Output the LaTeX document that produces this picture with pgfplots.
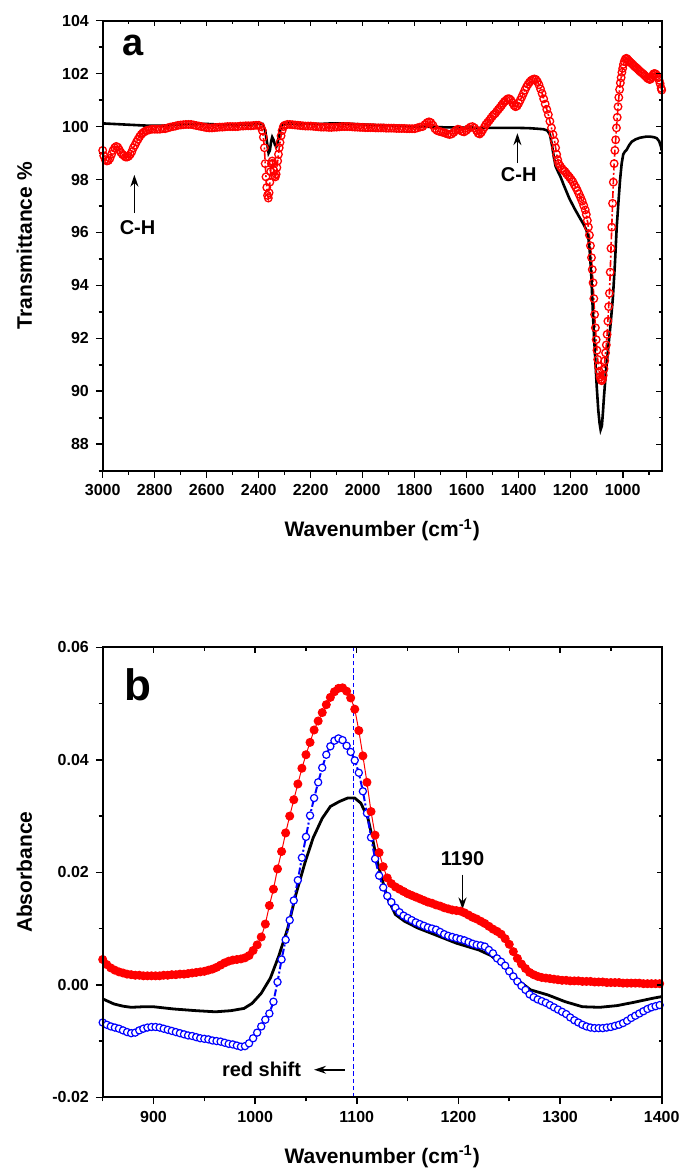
\documentclass[border=0pt]{standalone}
\usepackage{fontspec}
\setmainfont{Liberation Sans}
\usepackage{pgfplots}
\pgfplotsset{compat=1.18}
\usetikzlibrary{arrows.meta}

\pgfplotsset{
  panel/.style={scale only axis, width=279.5pt, height=225pt,
    axis line style={line width=0.9pt},
    every tick/.style={black, line width=0.8pt},
    major tick length=3.4pt, minor tick length=2pt,
    tick label style={font=\fontsize{8}{9}\selectfont\bfseries},
    label style={font=\fontsize{10.5}{12}\selectfont\bfseries},
    /pgf/number format/assume math mode=true,
    /pgf/number format/1000 sep={},
    xlabel style={at={(axis description cs:0.5,-0.132)}, anchor=center},
    ylabel style={at={(axis description cs:-0.14,0.5)}, anchor=center},
    xtick pos=left, ytick pos=left, tick align=outside},
  tickbox/.style={scale only axis, width=279.5pt, height=225pt,
    axis line style={line width=0.9pt},
    every tick/.style={black, line width=0.7pt},
    major tick length=2.6pt, minor tick length=1.6pt,
    xtick pos=right, ytick pos=right, tick align=inside,
    scaled ticks=false, xticklabels={}, yticklabels={}}
}
\tikzset{
  note/.style={font=\fontsize{10}{12}\selectfont\bfseries},
  arr/.style={-{Stealth[length=6pt,width=4pt]}, line width=0.75pt}
}

\begin{document}
\begin{tikzpicture}
\useasboundingbox (-51.35pt,10.35pt) rectangle (289.15pt,-575.65pt);

% ---------------- panel a ----------------
\begin{axis}[panel, at={(0pt,0pt)}, anchor=north west,
  x dir=reverse, xmin=850, xmax=3000, ymin=87, ymax=104,
  xtick={1000,1200,...,3000}, minor xtick={900,1100,...,2900},
  ytick={88,90,...,104}, minor ytick={87,89,...,103},
  xlabel={Wavenumber (cm\textsuperscript{-1})}, ylabel={Transmittance \%}]

\addplot[red, line width=0.8pt, dash pattern=on 3.5pt off 1.2pt on 1pt off 1.2pt,
  mark=o, mark size=1.9pt, mark options={solid, line width=0.65pt}] coordinates {
(3000,99.1) (2996,98.9) (2990,98.75) (2984,98.7) (2978,98.72) (2972,98.8) (2966,98.95)
(2960,99.1) (2954,99.2) (2948,99.25) (2942,99.22) (2936,99.12) (2930,99.02) (2924,98.95)
(2918,98.9) (2912,98.85) (2906,98.85) (2900,98.88) (2894,98.95) (2888,99.05) (2882,99.2)
(2876,99.3) (2870,99.42) (2864,99.52) (2858,99.62) (2852,99.7) (2846,99.76) (2840,99.8)
(2834,99.84) (2828,99.86) (2820,99.88) (2810,99.9) (2800,99.9) (2790,99.9) (2780,99.9)
(2770,99.92) (2760,99.92) (2750,99.95) (2740,99.98) (2730,100.0) (2720,100.02) (2710,100.05)
(2700,100.06) (2690,100.07) (2680,100.08) (2670,100.08) (2660,100.08) (2650,100.06)
(2640,100.04) (2630,100.02) (2620,100.0) (2610,99.98) (2600,99.96) (2590,99.95) (2580,99.95)
(2570,99.96) (2560,99.97) (2550,99.98) (2540,99.98) (2530,99.99) (2520,100.0) (2510,100.0)
(2500,100.0) (2490,100.0) (2480,100.0) (2470,100.02) (2460,100.02) (2450,100.03)
(2440,100.03) (2430,100.03) (2420,100.04) (2410,100.05) (2400,100.05) (2392,100.0)
(2386,99.85) (2382,99.6) (2378,99.2) (2375,98.6) (2372,98.1) (2369,97.7) (2366,97.4)
(2363,97.3) (2360,97.5) (2357,97.9) (2354,98.3) (2351,98.6) (2348,98.7) (2345,98.6)
(2342,98.35) (2339,98.15) (2336,98.1) (2333,98.2) (2330,98.45) (2327,98.7) (2324,98.95)
(2321,99.2) (2318,99.4) (2314,99.65) (2310,99.85) (2305,100.0) (2300,100.05) (2290,100.08)
(2280,100.08) (2270,100.07) (2260,100.06) (2250,100.05) (2240,100.04) (2230,100.03)
(2220,100.02) (2210,100.02) (2200,100.02) (2190,100.01) (2180,100.0) (2170,99.99)
(2160,99.98) (2150,99.98) (2140,99.98) (2130,99.97) (2120,99.97) (2110,99.98) (2100,99.98)
(2090,99.99) (2080,100.0) (2070,100.0) (2060,100.0) (2050,100.0) (2040,99.99) (2030,99.98)
(2020,99.98) (2010,99.97) (2000,99.97) (1990,99.96) (1980,99.96) (1970,99.96) (1960,99.96)
(1950,99.95) (1940,99.95) (1930,99.95) (1920,99.95) (1910,99.94) (1900,99.94) (1890,99.94)
(1880,99.94) (1870,99.93) (1860,99.93) (1850,99.93) (1840,99.93) (1830,99.92) (1820,99.92)
(1810,99.92) (1800,99.92) (1790,99.95) (1780,99.98) (1770,100.0) (1760,100.08) (1752,100.15)
(1745,100.18) (1738,100.15) (1730,100.05) (1722,99.92) (1714,99.85) (1706,99.82) (1698,99.8)
(1690,99.78) (1682,99.75) (1674,99.72) (1666,99.7) (1658,99.72) (1650,99.78) (1642,99.85)
(1634,99.9) (1626,99.88) (1618,99.82) (1610,99.8) (1602,99.85) (1594,99.92) (1586,99.98)
(1578,100.0) (1570,99.95) (1562,99.85) (1556,99.75) (1550,99.72) (1544,99.78) (1538,99.88)
(1532,99.98) (1526,100.08) (1520,100.15) (1514,100.22) (1508,100.3) (1502,100.38)
(1496,100.45) (1490,100.5) (1484,100.58) (1478,100.65) (1472,100.72) (1466,100.8)
(1460,100.88) (1454,100.95) (1448,101.0) (1442,101.05) (1436,101.05) (1430,101.0)
(1424,100.9) (1418,100.8) (1412,100.75) (1406,100.78) (1400,100.88) (1394,101.0)
(1388,101.12) (1382,101.25) (1376,101.38) (1370,101.5) (1364,101.6) (1358,101.68)
(1352,101.74) (1346,101.78) (1340,101.8) (1334,101.78) (1328,101.7) (1322,101.58)
(1316,101.42) (1310,101.25) (1304,101.05) (1298,100.85) (1292,100.65) (1286,100.45)
(1280,100.2) (1274,99.95) (1268,99.7) (1262,99.45) (1258,99.2) (1254,98.95) (1250,98.75)
(1246,98.6) (1240,98.5) (1234,98.42) (1228,98.35) (1222,98.3) (1216,98.22) (1210,98.15)
(1204,98.08) (1198,98.0) (1192,97.92) (1186,97.8) (1180,97.7) (1174,97.58) (1168,97.45)
(1162,97.32) (1156,97.18) (1150,97.02) (1144,96.85) (1140,96.68) (1136,96.45) (1132,96.2)
(1128,95.9) (1124,95.5) (1120,95.05) (1117,94.6) (1114,94.1) (1111,93.5) (1108,92.9)
(1105,92.4) (1102,91.95) (1099,91.55) (1096,91.2) (1093,90.95) (1090,90.75) (1087,90.55)
(1084,90.45) (1081,90.4) (1078,90.45) (1075,90.6) (1072,90.85) (1069,91.15) (1066,91.45)
(1063,91.75) (1060,92.15) (1057,92.65) (1054,93.2) (1051,93.7) (1048,94.5) (1045,95.4)
(1042,96.2) (1039,97.1) (1036,97.9) (1033,98.6) (1030,99.1) (1027,99.5) (1024,99.95)
(1021,100.35) (1018,100.75) (1015,101.1) (1012,101.4) (1009,101.65) (1006,101.85)
(1003,102.05) (1000,102.2) (997,102.35) (994,102.46) (990,102.55) (986,102.58) (982,102.55)
(978,102.5) (974,102.46) (970,102.42) (965,102.38) (960,102.33) (955,102.28) (950,102.24)
(945,102.2) (940,102.15) (935,102.1) (930,102.06) (925,102.02) (920,101.98) (915,101.93)
(910,101.88) (905,101.83) (900,101.8) (896,101.78) (892,101.8) (888,101.88) (884,101.95)
(880,102.0) (876,102.0) (872,101.98) (868,101.92) (864,101.85) (860,101.75) (856,101.62)
(852,101.45) (850,101.38)};

\addplot[black, line width=1.3pt] coordinates {
(3000,100.12) (2960,100.1) (2920,100.08) (2880,100.06) (2840,100.04) (2800,100.03)
(2760,100.04) (2720,100.07) (2680,100.1) (2640,100.1) (2600,100.1) (2560,100.08)
(2520,100.07) (2480,100.07) (2440,100.08) (2400,100.1) (2385,100.1) (2375,99.85)
(2368,99.4) (2362,99.0) (2357,99.1) (2352,99.45) (2348,99.6) (2343,99.5) (2337,99.3)
(2332,99.25) (2326,99.45) (2320,99.75) (2314,100.0) (2306,100.1) (2280,100.12) (2240,100.1)
(2200,100.1) (2160,100.1) (2120,100.12) (2080,100.12) (2040,100.1) (2000,100.08)
(1960,100.06) (1920,100.05) (1880,100.04) (1840,100.02) (1800,100.0) (1760,100.0)
(1720,99.98) (1680,99.97) (1640,99.97) (1600,99.96) (1560,99.95) (1520,99.95) (1480,99.95)
(1440,99.95) (1400,99.95) (1360,99.94) (1330,99.92) (1305,99.9) (1290,99.85) (1280,99.7)
(1272,99.3) (1265,98.85) (1258,98.5) (1248,98.28) (1240,98.12) (1225,97.75) (1205,97.28)
(1185,96.9) (1165,96.55) (1150,96.3) (1140,96.1) (1132,95.8) (1126,95.2) (1121,94.4)
(1117,93.5) (1112,92.4) (1106,91.3) (1100,90.2) (1094,89.3) (1089,88.8) (1085,88.55)
(1080,88.7) (1076,89.2) (1072,89.8) (1064,90.8) (1055,91.7) (1046,92.6) (1038,93.5)
(1030,94.8) (1023,96.2) (1016,97.2) (1010,98.0) (1004,98.6) (998,98.95) (992,99.05)
(985,99.12) (975,99.3) (965,99.43) (950,99.52) (933,99.58) (910,99.62) (895,99.62)
(880,99.6) (869,99.56) (860,99.45) (853,99.25) (850,99.1)};

\node[font=\fontsize{19}{22}\selectfont\bfseries] at (axis cs:2885,103.08) {a};
\node[note] at (axis cs:2866,96.19) {C-H};
\draw[arr] (axis cs:2878,96.73) -- (axis cs:2878,98.18);
\node[note] at (axis cs:1400,98.18) {C-H};
\draw[arr] (axis cs:1405,98.62) -- (axis cs:1405,99.75);
\end{axis}
\begin{axis}[tickbox, at={(0pt,0pt)}, anchor=north west,
  x dir=reverse, xmin=850, xmax=3000, ymin=87, ymax=104,
  xtick={1000,1200,...,3000}, minor xtick={900,1100,...,2900},
  ytick={88,90,...,104}, minor ytick={87,89,...,103}]
\end{axis}

% ---------------- panel b ----------------
\begin{axis}[panel, at={(0pt,-313.3pt)}, anchor=north west,
  xmin=850, xmax=1400, ymin=-0.02, ymax=0.06,
  xtick={900,1000,...,1400}, minor xtick={850,950,...,1350},
  ytick={-0.02,0,0.02,0.04,0.06}, minor ytick={-0.01,0.01,0.03,0.05},
  scaled y ticks=false,
  yticklabel style={/pgf/number format/fixed, /pgf/number format/fixed zerofill,
    /pgf/number format/precision=2},
  xlabel={Wavenumber (cm\textsuperscript{-1})}, ylabel={Absorbance}]

\addplot[blue, line width=0.7pt, dash pattern=on 2.2pt off 1.4pt]
  coordinates {(1097,-0.02) (1097,0.06)};

\addplot[black, line width=1.4pt] coordinates {
(850,-0.0025) (861,-0.0034) (870,-0.0038) (878,-0.0040) (890,-0.0039) (900,-0.0039)
(910,-0.0041) (920,-0.0043) (942,-0.0046) (961,-0.0048) (976,-0.0046) (989,-0.0042)
(997,-0.0033) (1006,-0.0015) (1015,0.0012) (1023,0.0050) (1032,0.0100) (1040,0.0160)
(1049,0.0217) (1057,0.0261) (1066,0.0296) (1074,0.0317) (1083,0.0326) (1091,0.0332)
(1098,0.0332) (1104,0.0323) (1111,0.0296) (1115,0.0264) (1119,0.0228) (1124,0.0193)
(1130,0.0155) (1138,0.0125) (1147,0.0113) (1160,0.0101) (1177,0.0089) (1198,0.0074)
(1220,0.0062) (1232,0.0052) (1245,0.0033) (1258,0.0009) (1271,-0.0009) (1288,-0.0018)
(1305,-0.0030) (1322,-0.0039) (1339,-0.0040) (1356,-0.0037) (1373,-0.0031) (1391,-0.0024)
(1400,-0.0021)};

\addplot[blue, line width=1pt, dash pattern=on 3.5pt off 1.2pt on 1pt off 1.2pt,
  mark=*, mark size=1.8pt, mark options={solid, fill=white, draw=blue, line width=0.6pt}]
  coordinates {
(850,-0.0067) (854,-0.0071) (858,-0.0074) (862,-0.0076) (866,-0.0078) (870,-0.0081)
(874,-0.0084) (878,-0.0086) (882,-0.0085) (886,-0.0081) (890,-0.0078) (894,-0.0076)
(898,-0.0075) (902,-0.0075) (906,-0.0076) (910,-0.0078) (914,-0.0080) (918,-0.0082)
(922,-0.0084) (926,-0.0086) (930,-0.0088) (934,-0.0090) (938,-0.0091) (942,-0.0093)
(946,-0.0095) (950,-0.0096) (954,-0.0097) (958,-0.0099) (962,-0.0100) (966,-0.0101)
(970,-0.0103) (974,-0.0105) (978,-0.0106) (982,-0.0108) (986,-0.0110) (990,-0.0109)
(994,-0.0104) (998,-0.0095) (1002,-0.0085) (1006,-0.0074) (1010,-0.0062) (1014,-0.0051)
(1018,-0.0030) (1022,0.0005) (1026,0.0045) (1030,0.0080) (1034,0.0115) (1038,0.0150)
(1042,0.0186) (1046,0.0226) (1050,0.0263) (1054,0.0301) (1058,0.0332) (1062,0.0360)
(1066,0.0386) (1070,0.0409) (1074,0.0424) (1078,0.0434) (1082,0.0438) (1086,0.0435)
(1090,0.0425) (1094,0.0414) (1098,0.0399) (1102,0.0377) (1106,0.0344) (1110,0.0305)
(1114,0.0262) (1118,0.0224) (1122,0.0194) (1126,0.0173) (1130,0.0158) (1134,0.0147)
(1138,0.0137) (1142,0.0129) (1146,0.0123) (1150,0.0119) (1154,0.0115) (1158,0.0111)
(1162,0.0108) (1166,0.0105) (1170,0.0102) (1174,0.0100) (1178,0.0098) (1182,0.0094)
(1186,0.0090) (1190,0.0087) (1194,0.0085) (1198,0.0083) (1202,0.0081) (1206,0.0079)
(1210,0.0076) (1214,0.0073) (1218,0.0071) (1222,0.0070) (1226,0.0068) (1230,0.0062)
(1234,0.0056) (1238,0.0047) (1242,0.0041) (1246,0.0034) (1250,0.0024) (1254,0.0015)
(1258,0.0006) (1262,-0.0002) (1266,-0.0009) (1270,-0.0017) (1274,-0.0022) (1278,-0.0026)
(1282,-0.0029) (1286,-0.0032) (1290,-0.0036) (1294,-0.0040) (1298,-0.0044) (1302,-0.0048)
(1306,-0.0052) (1310,-0.0058) (1314,-0.0063) (1318,-0.0067) (1322,-0.0071) (1326,-0.0074)
(1330,-0.0076) (1334,-0.0077) (1338,-0.0077) (1342,-0.0077) (1346,-0.0076) (1350,-0.0075)
(1354,-0.0073) (1358,-0.0071) (1362,-0.0068) (1366,-0.0064) (1370,-0.0059) (1374,-0.0055)
(1378,-0.0051) (1382,-0.0047) (1386,-0.0043) (1390,-0.0040) (1394,-0.0038) (1398,-0.0036)};

\addplot[red, line width=0.5pt, mark=*, mark size=2pt, mark options={solid, fill=red, draw=red}]
  coordinates {
(850,0.0045) (854,0.0036) (858,0.0030) (862,0.0026) (866,0.0023) (870,0.0021) (874,0.0019)
(878,0.0018) (882,0.0017) (886,0.0017) (890,0.0016) (894,0.0016) (898,0.0016) (902,0.0016)
(906,0.0016) (910,0.0017) (914,0.0017) (918,0.0018) (922,0.0018) (926,0.0019) (930,0.0019)
(934,0.0020) (938,0.0021) (942,0.0022) (946,0.0023) (950,0.0024) (954,0.0026) (958,0.0028)
(962,0.0031) (966,0.0035) (970,0.0039) (974,0.0042) (978,0.0044) (982,0.0045) (986,0.0046)
(990,0.0048) (994,0.0052) (998,0.0061) (1002,0.0071) (1006,0.0085) (1010,0.0108)
(1014,0.0141) (1018,0.0170) (1022,0.0206) (1026,0.0237) (1030,0.0270) (1034,0.0300)
(1038,0.0329) (1042,0.0357) (1046,0.0385) (1050,0.0409) (1054,0.0431) (1058,0.0453)
(1062,0.0469) (1066,0.0484) (1070,0.0498) (1074,0.0511) (1078,0.0521) (1082,0.0527)
(1086,0.0528) (1090,0.0522) (1094,0.0510) (1098,0.0490) (1102,0.0452) (1106,0.0407)
(1110,0.0360) (1114,0.0308) (1118,0.0266) (1122,0.0235) (1126,0.0210) (1130,0.0190)
(1134,0.0180) (1138,0.0174) (1142,0.0170) (1146,0.0166) (1150,0.0162) (1154,0.0159)
(1158,0.0156) (1162,0.0153) (1166,0.0150) (1170,0.0147) (1174,0.0145) (1178,0.0142)
(1182,0.0140) (1186,0.0137) (1190,0.0135) (1194,0.0133) (1198,0.0132) (1202,0.0131)
(1206,0.0128) (1210,0.0124) (1214,0.0120) (1218,0.0117) (1222,0.0113) (1226,0.0109)
(1230,0.0104) (1234,0.0099) (1238,0.0095) (1242,0.0090) (1246,0.0082) (1250,0.0072)
(1254,0.0059) (1258,0.0047) (1262,0.0037) (1266,0.0029) (1270,0.0022) (1274,0.0018)
(1278,0.0015) (1282,0.0013) (1286,0.0012) (1290,0.0011) (1294,0.0010) (1298,0.0009)
(1302,0.0008) (1306,0.0008) (1310,0.0007) (1314,0.0007) (1318,0.0007) (1322,0.0006)
(1326,0.0006) (1330,0.0006) (1334,0.0005) (1338,0.0005) (1342,0.0005) (1346,0.0004)
(1350,0.0004) (1354,0.0004) (1358,0.0004) (1362,0.0003) (1366,0.0003) (1370,0.0003)
(1374,0.0003) (1378,0.0003) (1382,0.0002) (1386,0.0002) (1390,0.0002) (1394,0.0002)
(1398,0.0002)};

\node[font=\fontsize{22}{26}\selectfont\bfseries] at (axis cs:885,0.0533) {b};
\node[note] at (axis cs:1204,0.0225) {1190};
\draw[arr] (axis cs:1204,0.0196) -- (axis cs:1204,0.0134);
\node[note, anchor=east] at (axis cs:1052,-0.0151) {red shift};
\draw[arr] (axis cs:1088,-0.0151) -- (axis cs:1058,-0.0151);
\end{axis}
\begin{axis}[tickbox, at={(0pt,-313.3pt)}, anchor=north west,
  xmin=850, xmax=1400, ymin=-0.02, ymax=0.06,
  xtick={900,1000,...,1400}, minor xtick={850,950,...,1350},
  ytick={-0.02,0,0.02,0.04,0.06}, minor ytick={-0.01,0.01,0.03,0.05}]
\end{axis}
\end{tikzpicture}
\end{document}
